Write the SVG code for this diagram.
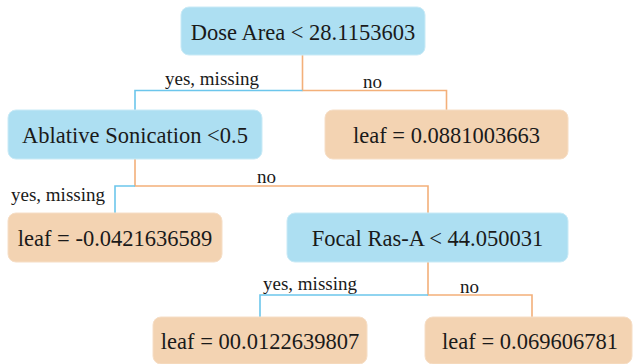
<svg xmlns="http://www.w3.org/2000/svg" width="633" height="364" viewBox="0 0 633 364">
<style>
.split rect{fill:#ADDFF2;stroke:#C9EAF6;stroke-width:1}
.leaf rect{fill:#F3D3B2;stroke:#F6DEC6;stroke-width:1}
.nt{font-family:"Liberation Serif","Times New Roman",serif;font-size:22.5px;fill:#1a1a1a;text-anchor:middle}
.lbl{font-family:"Liberation Serif","Times New Roman",serif;font-size:19px;fill:#1a1a1a}
.yes{stroke:#6CC6EC;stroke-width:1.6;fill:none}
.no{stroke:#F3B07A;stroke-width:1.6;fill:none}
</style>
<rect width="633" height="364" fill="#ffffff"/>
<g id="connectors">
<path class="no" d="M302.5 55V90.5H446.5V110"/>
<path class="yes" d="M302.5 90.5H135V110"/>
<path class="no" d="M135 159V186H428V213"/>
<path class="yes" d="M135 186H115V213"/>
<path class="no" d="M428 262V295H532V317"/>
<path class="yes" d="M428 295H260V317"/>
<text class="lbl" x="165" y="85">yes, missing</text>
<text class="lbl" x="363" y="88">no</text>
<text class="lbl" x="11" y="201">yes, missing</text>
<text class="lbl" x="257" y="183">no</text>
<text class="lbl" x="263" y="290">yes, missing</text>
<text class="lbl" x="460" y="293">no</text>
</g>
<g id="n0" class="split"><rect x="181" y="7" width="244" height="48" rx="8"/><text class="nt" x="303" y="40">Dose Area &lt; 28.1153603</text></g>
<g id="n1" class="split"><rect x="8" y="110" width="254" height="49" rx="8"/><text class="nt" x="135" y="143">Ablative Sonication &lt;0.5</text></g>
<g id="n2" class="leaf"><rect x="325" y="110" width="243" height="49" rx="8"/><text class="nt" x="446.5" y="143">leaf = 0.0881003663</text></g>
<g id="n3" class="leaf"><rect x="8" y="213" width="214" height="49" rx="8"/><text class="nt" x="115" y="246">leaf = -0.0421636589</text></g>
<g id="n4" class="split"><rect x="287" y="213" width="281" height="49" rx="8"/><text class="nt" x="427.5" y="246">Focal Ras-A &lt; 44.050031</text></g>
<g id="n5" class="leaf"><rect x="153" y="317" width="214" height="47" rx="8"/><text class="nt" x="260" y="349">leaf = 00.0122639807</text></g>
<g id="n6" class="leaf"><rect x="425" y="317" width="207" height="47" rx="8"/><text class="nt" x="530" y="349">leaf = 0.069606781</text></g>
</svg>
